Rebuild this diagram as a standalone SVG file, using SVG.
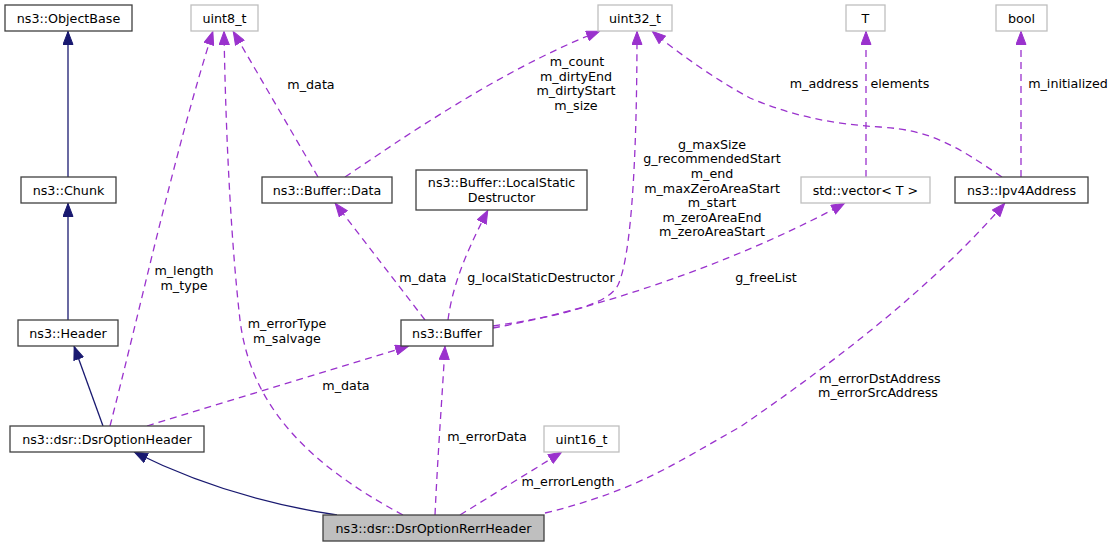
<svg xmlns="http://www.w3.org/2000/svg" width="1117" height="547" viewBox="0 0 1117 547">
<style>
text{font-family:"DejaVu Sans",Verdana,sans-serif;font-size:12.7px;fill:#000;text-anchor:middle}
.n{fill:#fff;stroke:#404040;stroke-width:1.3}
.g{fill:#fff;stroke:#bfbfbf;stroke-width:1.3}
.r{fill:#bfbfbf;stroke:#404040;stroke-width:1.3}
.inh{fill:none;stroke:#191970;stroke-width:1.3;marker-end:url(#an)}
.use{fill:none;stroke:#9a32cd;stroke-width:1.3;stroke-dasharray:7,5;marker-end:url(#ap)}
</style>
<defs>
<marker id="an" viewBox="0 0 14 11" refX="14" refY="5.5" markerWidth="14" markerHeight="11" markerUnits="userSpaceOnUse" orient="auto"><path d="M0.5,0.5 L13.5,5.5 L0.5,10.5 z" fill="#191970" stroke="#191970"/></marker>
<marker id="ap" viewBox="0 0 14 11" refX="14" refY="5.5" markerWidth="14" markerHeight="11" markerUnits="userSpaceOnUse" orient="auto"><path d="M0.5,0.5 L13.5,5.5 L0.5,10.5 z" fill="#9a32cd" stroke="#9a32cd"/></marker>
</defs>
<rect width="1117" height="547" fill="#fff"/>
<g id="connectors">
<path class="inh" d="M68,177 L68,31"/>
<path class="inh" d="M68,320 L68,203"/>
<path class="inh" d="M103,426 L74,346"/>
<path class="inh" d="M337,515 C270,505 200,485 134,452"/>
<path class="use" d="M110,426 C140,310 175,150 213,31"/>
<path class="use" d="M403,515 C300,460 250,400 240,320 C232,250 226,150 224,31"/>
<path class="use" d="M318,177 L233,31"/>
<path class="use" d="M345,177 C400,140 500,70 600,31"/>
<path class="use" d="M493,326 C560,316 608,305 618,285 C632,255 637,150 637,31"/>
<path class="use" d="M493,328 C620,305 760,250 845,203"/>
<path class="use" d="M866,177 L866,31"/>
<path class="use" d="M1021,177 L1021,31"/>
<path class="use" d="M1002,177 C955,145 930,130 880,127 C830,124 790,115 750,98 C720,82 680,55 652,31"/>
<path class="use" d="M425,320 L335,203"/>
<path class="use" d="M448,320 C452,290 462,260 488,210"/>
<path class="use" d="M147,426 L409,346"/>
<path class="use" d="M435,515 C438,450 442,400 445,346"/>
<path class="use" d="M460,515 L562,452"/>
<path class="use" d="M545,513 C640,490 680,460 740,427 C830,365 930,290 1005,203"/>
<text x="311" y="89">m_data</text>
<text x="577" y="66">m_count</text>
<text x="576" y="80.5">m_dirtyEnd</text>
<text x="576" y="95">m_dirtyStart</text>
<text x="576" y="110">m_size</text>
<text x="712" y="148.5">g_maxSize</text>
<text x="712" y="163">g_recommendedStart</text>
<text x="712" y="178">m_end</text>
<text x="712" y="192.5">m_maxZeroAreaStart</text>
<text x="712" y="207">m_start</text>
<text x="712" y="221.5">m_zeroAreaEnd</text>
<text x="712" y="236">m_zeroAreaStart</text>
<text x="824" y="88">m_address</text>
<text x="900" y="88">elements</text>
<text x="1068" y="88">m_initialized</text>
<text x="184" y="275">m_length</text>
<text x="184" y="290">m_type</text>
<text x="287" y="328">m_errorType</text>
<text x="287" y="343">m_salvage</text>
<text x="346" y="390">m_data</text>
<text x="423" y="282">m_data</text>
<text x="541" y="282">g_localStaticDestructor</text>
<text x="766" y="282">g_freeList</text>
<text x="487" y="441">m_errorData</text>
<text x="568" y="486">m_errorLength</text>
<text x="880" y="383">m_errorDstAddress</text>
<text x="878" y="397">m_errorSrcAddress</text>
</g>
<g id="n_objectbase"><rect class="n" x="5" y="5" width="127" height="26"/><text x="68.5" y="22.5">ns3::ObjectBase</text></g>
<g id="n_uint8"><rect class="g" x="191" y="5" width="67" height="26"/><text x="224.5" y="22.5">uint8_t</text></g>
<g id="n_uint32"><rect class="g" x="598" y="5" width="74" height="26"/><text x="635" y="22.5">uint32_t</text></g>
<g id="n_T"><rect class="g" x="846" y="5" width="39" height="26"/><text x="865.5" y="22.5">T</text></g>
<g id="n_bool"><rect class="g" x="996" y="5" width="51" height="26"/><text x="1021.5" y="22.5">bool</text></g>
<g id="n_chunk"><rect class="n" x="21" y="177" width="95" height="26"/><text x="68.5" y="194.5">ns3::Chunk</text></g>
<g id="n_bufferdata"><rect class="n" x="262" y="177" width="130" height="26"/><text x="327" y="194.5">ns3::Buffer::Data</text></g>
<g id="n_localstatic"><rect class="n" x="416" y="170" width="171" height="40"/><text x="501.5" y="186.5">ns3::Buffer::LocalStatic</text><text x="501.5" y="201.5">Destructor</text></g>
<g id="n_vector"><rect class="g" x="801" y="177" width="129" height="26"/><text x="865.5" y="194.5">std::vector&lt; T &gt;</text></g>
<g id="n_ipv4"><rect class="n" x="955" y="177" width="133" height="26"/><text x="1021.5" y="194.5">ns3::Ipv4Address</text></g>
<g id="n_header"><rect class="n" x="18" y="320" width="100" height="26"/><text x="68" y="337.5">ns3::Header</text></g>
<g id="n_buffer"><rect class="n" x="401" y="320" width="92" height="26"/><text x="447" y="337.5">ns3::Buffer</text></g>
<g id="n_dsroptionheader"><rect class="n" x="10" y="426" width="194" height="26"/><text x="107" y="443.5">ns3::dsr::DsrOptionHeader</text></g>
<g id="n_uint16"><rect class="g" x="544" y="426" width="75" height="26"/><text x="581.5" y="443.5">uint16_t</text></g>
<g id="n_rerr"><rect class="r" x="323" y="515" width="221" height="26"/><text x="433.5" y="532.5">ns3::dsr::DsrOptionRerrHeader</text></g>
</svg>
